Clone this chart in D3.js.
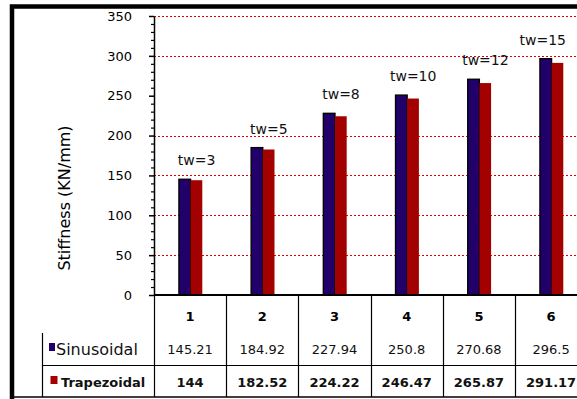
<!DOCTYPE html>
<html>
<head>
<meta charset="utf-8">
<script src="https://cdn.jsdelivr.net/npm/d3@7/dist/d3.min.js"></script>
<style>
  html, body { margin: 0; padding: 0; background: #fff; }
  svg { display: block; font-family: "DejaVu Sans", Verdana, sans-serif; }
</style>
</head>
<body>
<svg id="chart" width="577" height="399"></svg>
<script>
// Stiffness of corrugated-web girders for increasing web thickness
const categories = ["1", "2", "3", "4", "5", "6"];
const thicknessLabels = ["tw=3", "tw=5", "tw=8", "tw=10", "tw=12", "tw=15"];
const sinusoidal = [145.21, 184.92, 227.94, 250.8, 270.68, 296.5];
const trapezoidal = [144, 182.52, 224.22, 246.47, 265.87, 291.17];
const seriesNames = ["Sinusoidal", "Trapezoidal"];
const majorTicks = [0, 50, 100, 150, 200, 250, 300, 350];
const gridValues = [50, 100, 150, 200, 300, 350];

const colors = { Sinusoidal: "#22006a", Trapezoidal: "#a30000" };

const svg = d3.select("#chart");
const W = 577, H = 399;

const plotLeft = 154, plotTop = 16, plotBottom = 295;
const colWidth = 72.2;
const tableBottom = 397;

const x = d3.scaleBand()
  .domain(categories)
  .range([plotLeft, plotLeft + colWidth * categories.length])
  .paddingInner(0).paddingOuter(0);

const y = d3.scaleLinear().domain([0, 350]).range([plotBottom, plotTop]);

// red dotted gridlines
svg.append("g").selectAll("line").data(gridValues).join("line")
  .attr("x1", plotLeft).attr("x2", W)
  .attr("y1", d => Math.round(y(d)) + 0.5).attr("y2", d => Math.round(y(d)) + 0.5)
  .attr("stroke", "#e00000").attr("stroke-width", 1.2)
  .attr("stroke-dasharray", "2,2");

// bars
const barW = x.bandwidth() * 0.162;
const rows = categories.map((c, i) => ({ c, s: sinusoidal[i], t: trapezoidal[i], label: thicknessLabels[i] }));
const mid = d => x(d.c) + x.bandwidth() / 2 + 0.5;

svg.append("g").selectAll("rect").data(rows).join("rect")
  .attr("x", d => mid(d) - barW)
  .attr("y", d => y(d.s))
  .attr("width", barW)
  .attr("height", d => y(0) - y(d.s))
  .attr("fill", colors.Sinusoidal)
  .attr("stroke", "#000").attr("stroke-width", 1.3);

svg.append("g").selectAll("rect").data(rows).join("rect")
  .attr("x", d => mid(d))
  .attr("y", d => y(d.t))
  .attr("width", barW)
  .attr("height", d => y(0) - y(d.t))
  .attr("fill", colors.Trapezoidal);

// thickness labels above each pair, kept inside the visible area
svg.append("g").selectAll("text").data(rows).join("text")
  .attr("y", d => y(d.s) - 14)
  .attr("text-anchor", "middle")
  .attr("font-size", 14)
  .attr("fill", "#111")
  .text(d => d.label)
  .each(function (d) {
    const half = this.getComputedTextLength() / 2;
    d3.select(this).attr("x", Math.min(mid(d) + 6, W - 11 - half));
  });

// y axis with major and minor ticks
const minorTicks = d3.range(0, 351, 10).filter(v => v % 50 !== 0);
svg.append("g")
  .attr("transform", `translate(${plotLeft},0)`)
  .call(d3.axisLeft(y).tickValues(minorTicks).tickSize(3).tickFormat(""))
  .call(g => g.select(".domain").remove())
  .call(g => g.selectAll("line").attr("stroke", "#000").attr("stroke-width", 1.2));

svg.append("g")
  .attr("transform", `translate(${plotLeft},0)`)
  .call(d3.axisLeft(y).tickValues(majorTicks).tickSize(5).tickSizeOuter(0).tickPadding(17))
  .call(g => g.select(".domain").attr("stroke", "#000").attr("stroke-width", 1.5))
  .call(g => g.selectAll("line").attr("stroke", "#000").attr("stroke-width", 1.5))
  .call(g => g.selectAll("text").attr("font-size", 13).attr("fill", "#000")
    .attr("font-family", "'DejaVu Sans', sans-serif"));

// axis title
svg.append("text")
  .attr("transform", "translate(70,198) rotate(-90)")
  .attr("text-anchor", "middle")
  .attr("font-size", 16)
  .attr("fill", "#000")
  .text("Stiffness (KN/mm)");

// data table beneath the plot
const rowY = { head: 316, Sinusoidal: 349, Trapezoidal: 382 };
const tbl = svg.append("g");

// baseline of plot / top of table
tbl.append("line").attr("x1", plotLeft).attr("x2", W)
  .attr("y1", plotBottom).attr("y2", plotBottom)
  .attr("stroke", "#000").attr("stroke-width", 2);

// column separators
const edges = categories.map(c => x(c)).concat([x(categories[categories.length - 1]) + x.bandwidth()]);
tbl.selectAll(".col").data(edges).join("line")
  .attr("x1", d => Math.round(d) + 0.5).attr("x2", d => Math.round(d) + 0.5)
  .attr("y1", plotBottom).attr("y2", tableBottom)
  .attr("stroke", "#000").attr("stroke-width", 1.2);

// row separator and legend column line
tbl.append("line").attr("x1", 42).attr("x2", W).attr("y1", 365.5).attr("y2", 365.5)
  .attr("stroke", "#000").attr("stroke-width", 1.2);
tbl.append("line").attr("x1", 42.5).attr("x2", 42.5).attr("y1", 333).attr("y2", tableBottom)
  .attr("stroke", "#000").attr("stroke-width", 1.2);
tbl.append("line").attr("x1", 12).attr("x2", W).attr("y1", tableBottom).attr("y2", tableBottom)
  .attr("stroke", "#000").attr("stroke-width", 1.5);

// header numbers
tbl.selectAll(".hd").data(categories).join("text")
  .attr("x", c => x(c) + x.bandwidth() / 2)
  .attr("y", rowY.head).attr("dy", "0.35em")
  .attr("text-anchor", "middle").attr("font-size", 13).attr("font-weight", "bold")
  .text(c => c);

// series values
tbl.selectAll(".sv").data(rows).join("text")
  .attr("x", d => x(d.c) + x.bandwidth() / 2)
  .attr("y", rowY.Sinusoidal).attr("dy", "0.35em")
  .attr("text-anchor", "middle").attr("font-size", 13).attr("fill", "#111")
  .text(d => d.s);
tbl.selectAll(".tv").data(rows).join("text")
  .attr("x", d => x(d.c) + x.bandwidth() / 2)
  .attr("y", rowY.Trapezoidal).attr("dy", "0.35em")
  .attr("text-anchor", "middle").attr("font-size", 13).attr("font-weight", "bold").attr("fill", "#111")
  .text(d => d.t);

// row legend keys
tbl.append("rect").attr("x", 49).attr("y", 343).attr("width", 6).attr("height", 8).attr("fill", colors.Sinusoidal);
tbl.append("text").attr("x", 56).attr("y", rowY.Sinusoidal).attr("dy", "0.35em")
  .attr("font-size", 16).attr("fill", "#111").text(seriesNames[0]);
tbl.append("rect").attr("x", 50.5).attr("y", 376).attr("width", 7).attr("height", 8).attr("fill", colors.Trapezoidal);
tbl.append("text").attr("x", 61).attr("y", rowY.Trapezoidal).attr("dy", "0.35em")
  .attr("font-size", 13).attr("font-weight", "bold").attr("fill", "#111").text(seriesNames[1]);

// heavy frame on top and left
svg.append("path")
  .attr("d", `M12,${H} L12,6.5 L${W},6.5`)
  .attr("fill", "none").attr("stroke", "#000").attr("stroke-width", 4.5);
</script>
</body>
</html>
